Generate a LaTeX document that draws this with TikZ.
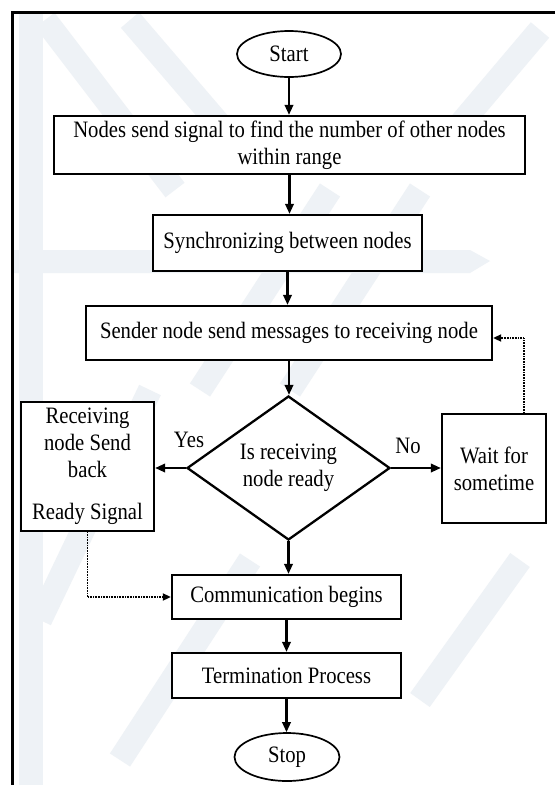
\documentclass[tikz,border=0pt]{standalone}
\usepackage{fontspec}
\setmainfont{Liberation Serif}[FakeStretch=0.88]
\usetikzlibrary{shapes.geometric,arrows.meta}
\definecolor{wm}{RGB}{238,242,246}
\tikzset{
  proc/.style={draw=black, line width=2.3pt, fill=white, align=center, inner sep=0pt},
  termin/.style={draw=black, ellipse, line width=1.7pt, fill=white, inner sep=0pt},
  decision/.style={draw=black, diamond, line width=2.3pt, fill=white, inner sep=0pt, align=center},
  flow/.style={line width=2.1pt, -{Triangle[length=10pt,width=8.5pt]}},
  dotflow/.style={line width=1.7pt, dash pattern=on 0.8pt off 0.8pt, -{Triangle[length=8pt,width=7pt]}},
  band/.style={line width=24pt, draw=wm, line cap=butt},
  lbl/.style={inner sep=0pt}
}
\begin{document}
\begin{tikzpicture}[x=1pt,y=-1pt,font=\fontsize{23.5}{27}\selectfont]
\useasboundingbox (0,0) rectangle (555,785);
\fill[white] (0,0) rectangle (555,785);
% faint watermark
\draw[band] (31,12) -- (31,785);
\fill[wm] (12,250) -- (470,250) -- (490,261) -- (470,273) -- (12,273) -- cycle;
\draw[band] (45,20) -- (175,190);
\draw[band] (130,20) -- (250,160);
\draw[band] (540,30) -- (430,160);
\draw[band] (330,190) -- (200,390);
\draw[band] (420,190) -- (290,390);
\draw[band] (150,390) -- (40,620);
\draw[band] (520,560) -- (420,700);
\draw[band] (250,560) -- (120,760);
% frame
\draw[line width=3pt] (12,785) -- (12,12) -- (555,12);
% nodes
\node[termin, minimum width=104, minimum height=46] (start) at (289,54) {Start};
\node[proc, minimum width=471, minimum height=58] (sense) at (289.5,145) {Nodes send signal to find the number of other nodes\\within range};
\node[proc, minimum width=269, minimum height=56] (sync) at (287.5,243) {Synchronizing between nodes};
\node[proc, minimum width=406, minimum height=54] (send) at (289,333) {Sender node send messages to receiving node};
\node[decision, minimum width=203, minimum height=144, aspect=1.41] (dec) at (288.5,468) {Is receiving\\node ready};
\node[proc, minimum width=133, minimum height=129] (recv) at (87.5,466.5) {Receiving\\node Send\\back\\[15pt]Ready Signal};
\node[proc, minimum width=104, minimum height=109] (wait) at (494,468.5) {Wait for\\sometime};
\node[proc, minimum width=229, minimum height=44] (comm) at (286.5,597) {Communication begins};
\node[proc, minimum width=229, minimum height=45] (term) at (286.5,675.5) {Termination Process};
\node[termin, minimum width=105, minimum height=48] (stop) at (287,757) {Stop};
% labels
\node[lbl] (yes) at (189,440) {Yes};
\node[lbl] (no) at (408,446) {No};
% connectors
\draw[flow] (start.south) -- (start.south |- sense.north);
\draw[flow] (sense.south) -- (sense.south |- sync.north);
\draw[flow] (sync.south) -- (sync.south |- send.north);
\draw[flow] (send.south) -- (send.south |- dec.north);
\draw[flow] (dec.west) -- (recv.east |- dec.west);
\draw[flow] (dec.east) -- (wait.west |- dec.east);
\draw[flow] (dec.south) -- (dec.south |- comm.north);
\draw[flow] (comm.south) -- (comm.south |- term.north);
\draw[flow] (term.south) -- (term.south |- stop.north);
\coordinate (bend) at (524,338);
\draw[dotflow] (wait.north -| bend) -- (bend) -- (send.east |- bend);
\draw[dotflow] (recv.south) -- (recv.south |- comm.west) -- (comm.west);
\end{tikzpicture}
\end{document}
